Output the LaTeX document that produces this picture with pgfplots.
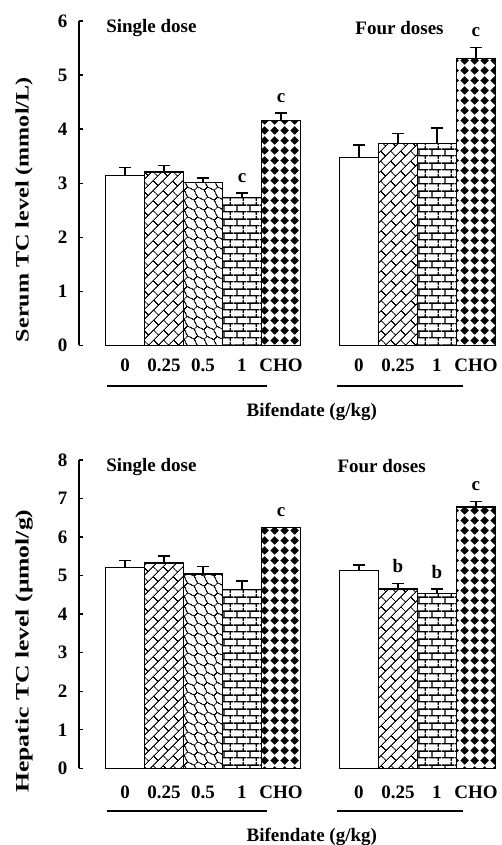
\documentclass[border=0pt]{standalone}
\usepackage{fontspec}
\setmainfont{Liberation Serif}
\usepackage{graphicx}
\usepackage{pgfplots}
\pgfplotsset{compat=1.18}
\usetikzlibrary{patterns.meta}

\tikzdeclarepattern{
  name=bricks, type=uncolored,
  bottom left={(0pt,0pt)}, top right={(6.5pt,7pt)}, tile size={(6.5pt,7pt)},
  code={
    \draw[line width=0.7pt] (0pt,1.75pt)--(6.5pt,1.75pt) (0pt,5.25pt)--(6.5pt,5.25pt)
      (1.6pt,1.75pt)--(1.6pt,5.25pt) (4.85pt,5.25pt)--(4.85pt,7pt) (4.85pt,0pt)--(4.85pt,1.75pt);
  }
}
\tikzdeclarepattern{
  name=diagA, type=uncolored,
  bottom left={(0pt,0pt)}, top right={(7pt,7pt)}, tile size={(7pt,7pt)},
  tile transformation={rotate=45},
  code={
    \draw[line width=0.5pt] (0pt,1.75pt)--(7pt,1.75pt) (0pt,5.25pt)--(7pt,5.25pt)
      (1.75pt,1.75pt)--(1.75pt,5.25pt) (5.25pt,5.25pt)--(5.25pt,7pt) (5.25pt,0pt)--(5.25pt,1.75pt);
  }
}
\tikzdeclarepattern{
  name=diagB, type=uncolored,
  bottom left={(0pt,0pt)}, top right={(7pt,7pt)}, tile size={(7pt,7pt)},
  tile transformation={rotate=-45},
  code={
    \draw[line width=0.5pt] (0pt,1.75pt)--(1.75pt,2.4pt)--(3.5pt,1.75pt)--(5.25pt,1.1pt)--(7pt,1.75pt)
      (0pt,5.25pt)--(1.75pt,4.6pt)--(3.5pt,5.25pt)--(5.25pt,5.9pt)--(7pt,5.25pt)
      (1.75pt,2.4pt)--(1.75pt,4.6pt) (5.25pt,5.9pt)--(5.25pt,7pt) (5.25pt,0pt)--(5.25pt,1.1pt);
  }
}
\tikzdeclarepattern{
  name=dots, type=colored,
  bottom left={(0pt,0pt)}, top right={(5pt,5pt)}, tile size={(5pt,5pt)},
  code={
    \fill[white] (0pt,0pt) rectangle (5pt,5pt);
    \fill[black] (2.5pt,0.2pt) -- (4.8pt,2.5pt) -- (2.5pt,4.8pt) -- (0.2pt,2.5pt) -- cycle;
  }
}

\newcommand{\fs}{\fontsize{9.5}{11}\selectfont\bfseries}

\tikzset{lett/.style={anchor=south, inner sep=0pt, yshift=5pt, font=\fs}}

\pgfplotsset{
  panel/.style={
    scale only axis, width=209.2pt,
    xmin=-1.18, xmax=9.55, ymin=0,
    axis lines=left, axis line style={-, line width=0.7pt, black},
    x axis line style={draw=none},
    tick align=inside, major tick length=2.2pt,
    ytick style={line width=0.7pt, black},
    xtick={0,1,2,3,4,6,7,8,9},
    xticklabels={0,0.25,0.5,1,CHO,0,0.25,1,CHO},
    xtick style={draw=none},
    tick label style={font=\fs},
    /pgf/number format/assume math mode=true,
    yticklabel style={xshift=-2.3pt},
    clip=false,
  },
  nb/.style={ybar, bar width=1, bar shift=0pt, draw=black, line width=0.7pt},
  eb/.style={error bars/.cd, y dir=plus, y explicit,
    error bar style={line width=0.7pt, black},
    error mark options={rotate=90, mark size=3pt, line width=0.7pt, black}},
}

\begin{document}
\begin{tikzpicture}
\path[use as bounding box] (-39.5pt,-249.75pt) rectangle (211.5pt,172.75pt);

% ---------------- Top panel: serum TC ----------------
\begin{axis}[panel, at={(0pt,0pt)}, anchor=south west,
  height=162.25pt, ymax=6, ytick={0,1,...,6},
  xticklabel style={yshift=-3.3pt}]
  \addplot[nb, fill=white, eb] coordinates {(0,3.14) +- (0,0.15)};
  \addplot[nb, pattern=diagA, eb] coordinates {(1,3.21) +- (0,0.12)};
  \addplot[nb, pattern=diagB, eb] coordinates {(2,3.01) +- (0,0.09)};
  \addplot[nb, pattern=bricks, eb] coordinates {(3,2.74) +- (0,0.08)};
  \addplot[nb, pattern=dots, eb] coordinates {(4,4.16) +- (0,0.14)};
  \addplot[nb, fill=white, eb] coordinates {(6,3.48) +- (0,0.23)};
  \addplot[nb, pattern=diagA, eb] coordinates {(7,3.74) +- (0,0.18)};
  \addplot[nb, pattern=bricks, eb] coordinates {(8,3.74) +- (0,0.28)};
  \addplot[nb, pattern=dots, eb] coordinates {(9,5.31) +- (0,0.20)};
  \node[lett] at (axis cs:3,2.82) {c};
  \node[lett] at (axis cs:4,4.30) {c};
  \node[lett] at (axis cs:9,5.51) {c};
  \node[anchor=west, inner sep=0pt, font=\fs] at (axis cs:-0.49,5.87) {Single dose};
  \node[anchor=west, inner sep=0pt, font=\fs] at (axis cs:5.9,5.87) {Four doses};
  \draw[line width=1pt] (axis cs:-0.46,-0.75) -- (axis cs:3.64,-0.75);
  \draw[line width=1pt] (axis cs:5.44,-0.75) -- (axis cs:8.67,-0.75);
  \node[font=\fs] at (axis cs:4.79,-1.23) {Bifendate (g/kg)};
  \node[rotate=90, font=\fs] at (axis cs:-2.59,2.51) {\scalebox{1.27}[1]{Serum TC level (mmol/L)}};
\end{axis}

% ---------------- Bottom panel: hepatic TC ----------------
\begin{axis}[panel, at={(0pt,-211.4pt)}, anchor=south west,
  height=154.15pt, ymax=8, ytick={0,1,...,8},
  xticklabel style={yshift=-5.4pt}]
  \addplot[nb, fill=white, eb] coordinates {(0,5.21) +- (0,0.18)};
  \addplot[nb, pattern=diagA, eb] coordinates {(1,5.33) +- (0,0.18)};
  \addplot[nb, pattern=diagB, eb] coordinates {(2,5.04) +- (0,0.19)};
  \addplot[nb, pattern=bricks, eb] coordinates {(3,4.64) +- (0,0.22)};
  \addplot[nb, pattern=dots] coordinates {(4,6.25)};
  \addplot[nb, fill=white, eb] coordinates {(6,5.13) +- (0,0.15)};
  \addplot[nb, pattern=diagA, eb] coordinates {(7,4.65) +- (0,0.15)};
  \addplot[nb, pattern=bricks, eb] coordinates {(8,4.54) +- (0,0.11)};
  \addplot[nb, pattern=dots, eb] coordinates {(9,6.78) +- (0,0.15)};
  \node[lett] at (axis cs:4,6.25) {c};
  \node[lett] at (axis cs:7,4.80) {b};
  \node[lett] at (axis cs:8,4.65) {b};
  \node[lett] at (axis cs:9,6.93) {c};
  \node[anchor=west, inner sep=0pt, font=\fs] at (axis cs:-0.49,7.83) {Single dose};
  \node[anchor=west, inner sep=0pt, font=\fs] at (axis cs:5.44,7.85) {Four doses};
  \draw[line width=1pt] (axis cs:-0.46,-1.11) -- (axis cs:3.64,-1.11);
  \draw[line width=1pt] (axis cs:5.44,-1.11) -- (axis cs:8.67,-1.11);
  \node[font=\fs] at (axis cs:4.79,-1.78) {Bifendate (g/kg)};
  \node[rotate=90, font=\fs] at (axis cs:-2.59,3.04) {\scalebox{1.35}[1]{Hepatic TC level (μmol/g)}};
\end{axis}
\end{tikzpicture}
\end{document}
